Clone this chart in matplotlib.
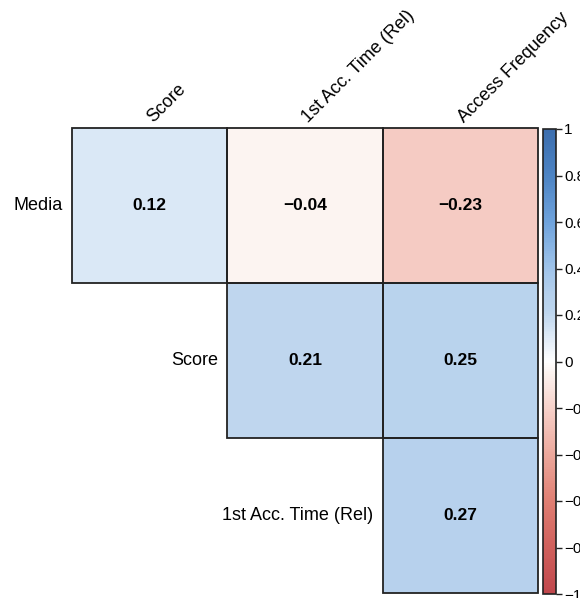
import numpy as np
import matplotlib
matplotlib.use("Agg")
import matplotlib.pyplot as plt
from matplotlib.colors import LinearSegmentedColormap, Normalize
from matplotlib.colorbar import ColorbarBase
from matplotlib.patches import Rectangle

plt.rcParams['font.family'] = ['Liberation Sans', 'DejaVu Sans']

row_labels = ["Media", "Score", "1st Acc. Time (Rel)"]
col_labels = ["Score", "1st Acc. Time (Rel)", "Access Frequency"]
row0 = [0.12, -0.04, -0.23]
row1 = [np.nan, 0.21, 0.25]
row2 = [np.nan, np.nan, 0.27]
cbar_ticks = [-1, -0.8, -0.6, -0.4, -0.2, 0, 0.2, 0.4, 0.6, 0.8, 1]

vals = np.ma.masked_invalid(np.array([row0, row1, row2]))

stops = [(-1.0, "#c0474c"), (-0.8, "#d0605c"), (-0.6, "#e07f73"),
         (-0.4, "#eca89c"), (-0.23, "#f5cbc3"), (-0.04, "#fcf5f2"),
         (0.0, "#ffffff"), (0.12, "#dbe8f6"), (0.21, "#bed6ee"),
         (0.3, "#b3cfec"), (0.4, "#a0c4ea"), (0.6, "#6fa3dc"),
         (0.8, "#4d84c4"), (1.0, "#3c6eae")]
cmap = LinearSegmentedColormap.from_list(
    "rb", [((v + 1) / 2, c) for v, c in stops])
norm = Normalize(-1, 1)

fig = plt.figure(figsize=(5.8, 5.98), dpi=100)
ax = fig.add_axes([72/580, 5/598, 466/580, 465/598])
ax.pcolormesh(np.arange(4), np.arange(4), vals, cmap=cmap, norm=norm,
              edgecolors="none")
ax.set_xlim(0, 3)
ax.set_ylim(3, 0)
ax.axis('off')

for i in range(3):
    for j in range(3):
        v = vals[i, j]
        if v is np.ma.masked:
            continue
        ax.add_patch(Rectangle((j, i), 1, 1, fill=False, edgecolor="#222222",
                               linewidth=1.3, clip_on=False))
        txt = f"{v:.2f}".replace("-", "\u2212")
        ax.text(j + 0.5, i + 0.5, txt, ha='center', va='center',
                fontsize=12.5, fontweight='bold', color='black')
    ax.text(i - 0.06, i + 0.5, row_labels[i], ha='right', va='center',
            fontsize=13, color='black')

for j in range(3):
    ax.text(j + 0.54, -0.015, col_labels[j], ha='left', va='bottom',
            rotation=45, rotation_mode='anchor', fontsize=13, color='black')

cax = fig.add_axes([543/580, 4/598, 13/580, 465/598])
cb = ColorbarBase(cax, cmap=cmap, norm=norm, ticks=cbar_ticks)
cb.outline.set_edgecolor("#222222")
cb.outline.set_linewidth(1.2)
cb.ax.tick_params(length=4, width=1, pad=2, labelsize=11, color="#222222")
cb.ax.set_yticklabels([("%g" % t).replace("-", "\u2212") for t in cbar_ticks])

fig.savefig("out.png", dpi=100)
